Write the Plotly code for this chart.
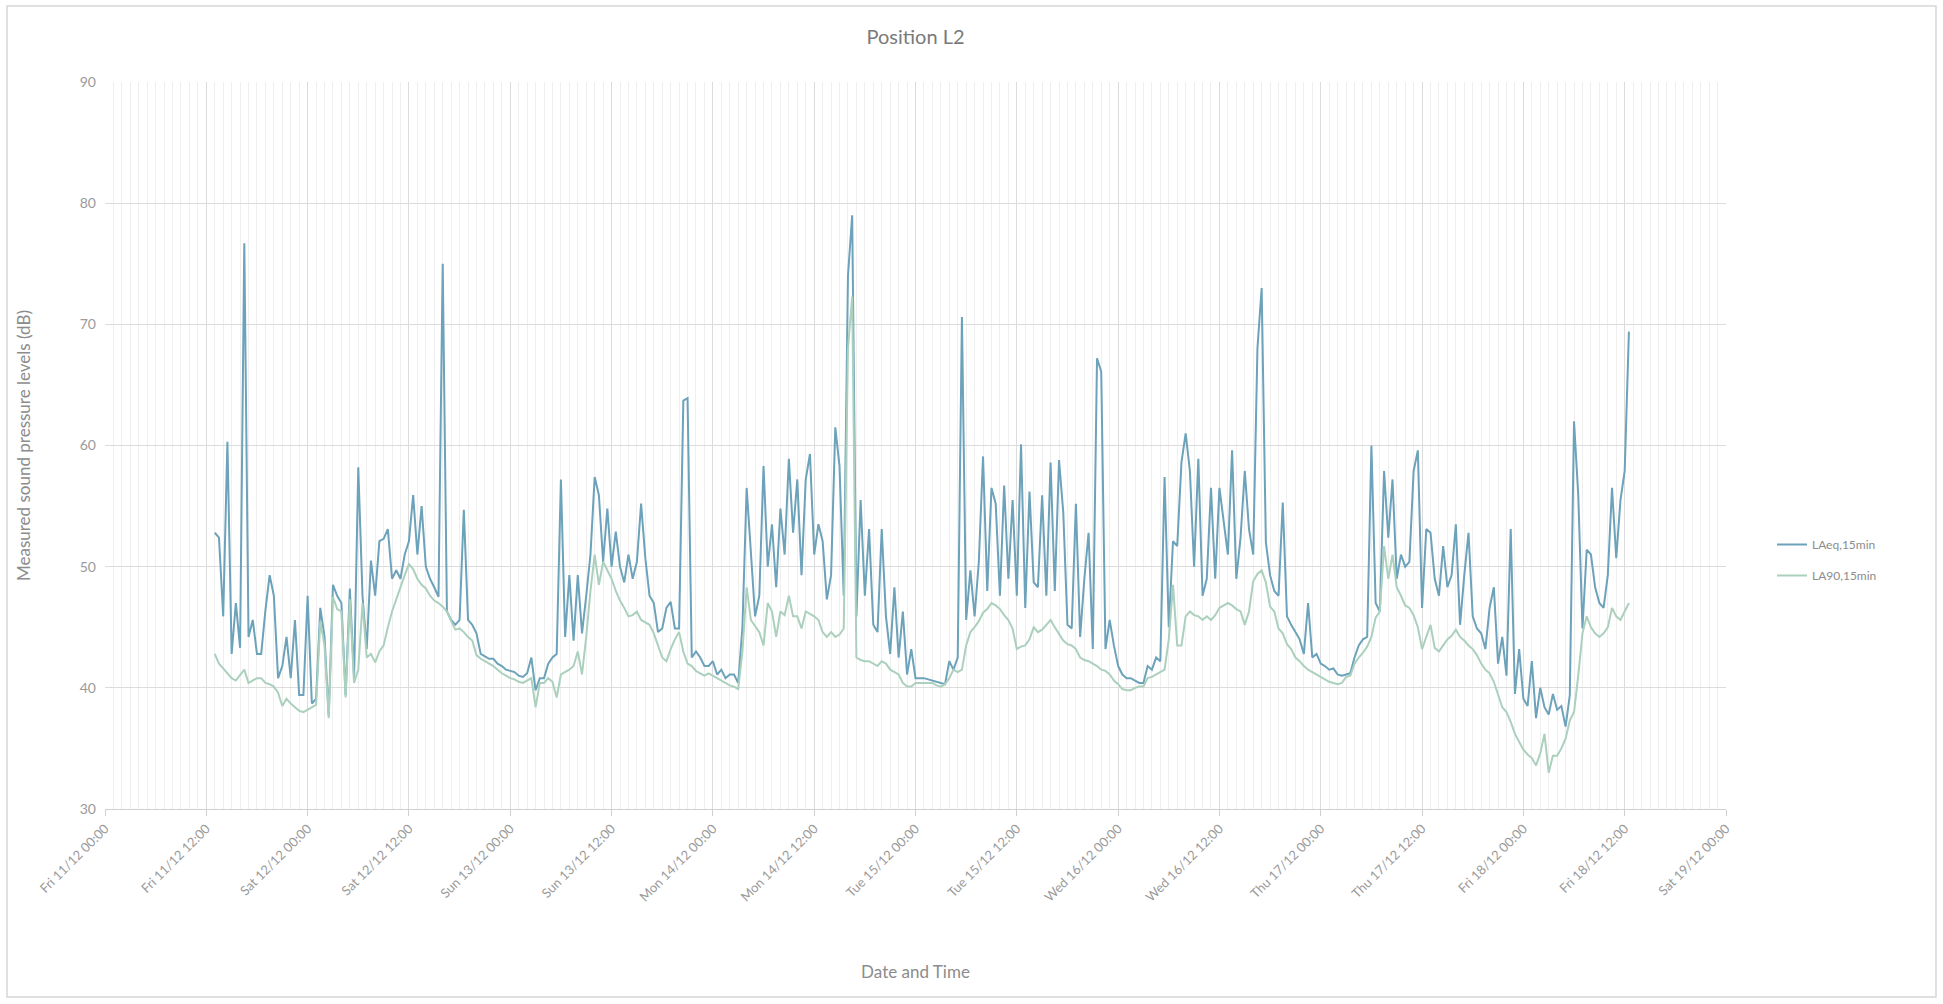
import pandas as pd
import plotly.graph_objects as go

# ---- data: 30-minute samples, starting Fri 11/12/2020 13:00 ----
start_time = "2020-12-11 13:00"
sample_step = "30min"

laeq_part1 = [52.8, 52.4, 45.9, 60.3, 42.8, 47.0, 43.3, 76.7, 44.2, 45.6, 42.8, 42.8, 46.4, 49.3,
              47.6, 40.8, 41.8, 44.2, 40.8, 45.6, 39.4, 39.4, 47.6, 38.7, 39.1, 46.6, 44.2, 37.7,
              48.5, 47.6, 47.0, 39.4, 48.2, 40.8, 58.2, 47.6, 43.2, 50.5, 47.6, 52.1, 52.3, 53.1,
              49.0, 49.7, 49.0, 51.0, 52.1, 55.9, 51.0, 55.0, 50.0, 49.0, 48.3, 47.5, 75.0, 46.3,
              45.6, 45.2]
laeq_part2 = [45.6, 54.7, 45.6, 45.2, 44.5, 42.8, 42.6, 42.4, 42.4, 42.0, 41.8, 41.5, 41.4, 41.3,
              41.0, 40.9, 41.2, 42.5, 39.8, 40.8, 40.8, 42.0, 42.5, 42.8, 57.2, 44.2, 49.3, 43.9,
              49.3, 44.5, 47.6, 51.0, 57.4, 55.9, 50.4, 54.8, 50.0, 52.9, 50.0, 48.7, 51.0, 49.0,
              50.4, 55.2, 50.7, 47.6, 47.0, 44.6, 44.9, 46.6, 47.1, 44.9, 44.9, 63.7, 63.9, 42.5,
              43.0, 42.5, 41.8]
laeq_part3 = [41.8, 42.2, 41.1, 41.5, 40.8, 41.1, 41.1, 40.4, 45.0, 56.5, 51.0, 45.9, 47.6, 58.3,
              50.0, 53.5, 48.3, 54.8, 51.0, 58.9, 52.8, 57.2, 49.3, 57.2, 59.3, 51.0, 53.5, 52.1,
              47.3, 49.3, 61.5, 58.3, 47.6, 74.0, 79.0, 45.9, 55.5, 47.6, 53.1, 45.2, 44.6, 53.1,
              45.9, 42.8, 48.3, 42.5, 46.3, 41.1, 43.2, 40.8, 40.8, 40.8, 40.7, 40.6, 40.5, 40.4,
              40.3, 42.2, 41.5]
laeq_part4 = [42.5, 70.6, 45.6, 49.7, 45.9, 50.4, 59.1, 48.0, 56.5, 55.2, 47.6, 56.7, 49.0, 55.5,
              47.6, 60.1, 46.6, 56.2, 48.7, 48.3, 55.9, 47.6, 58.6, 48.0, 58.8, 54.5, 45.2, 44.9,
              55.2, 44.2, 49.0, 52.8, 43.2, 67.2, 66.1, 43.2, 45.6, 43.5, 41.8, 41.1, 40.8, 40.8,
              40.6, 40.4, 40.4, 41.8, 41.5, 42.5, 42.2, 57.4, 45.0, 52.1, 51.7, 58.6, 61.0, 57.9,
              50.0, 58.9, 47.6, 49.0]
laeq_part5 = [56.5, 49.0, 56.5, 53.8, 51.0, 59.6, 49.0, 52.4, 57.9, 53.1, 51.0, 68.0, 73.0, 52.0,
              49.3, 48.0, 47.6, 55.3, 45.9, 45.2, 44.6, 44.0, 42.8, 47.0, 42.5, 42.8, 42.0, 41.8,
              41.5, 41.6, 41.1, 41.0, 41.1, 41.2, 42.5, 43.5, 44.0, 44.2, 60.0, 47.0, 46.3, 57.9,
              52.4, 57.2, 49.0, 51.0, 50.0, 50.4, 57.9, 59.6, 46.6, 53.1, 52.8, 49.0, 47.6, 51.7,
              48.3, 49.3, 53.5]
laeq_part6 = [45.2, 49.3, 52.8, 45.9, 44.9, 44.5, 43.2, 46.6, 48.3, 42.0, 44.2, 41.0, 53.1, 39.5,
              43.2, 39.1, 38.5, 42.2, 37.5, 40.0, 38.4, 37.8, 39.5, 38.2, 38.5, 36.8, 39.4, 62.0,
              55.9, 44.9, 51.4, 51.0, 48.3, 47.0, 46.6, 49.3, 56.5, 50.7, 55.5, 57.9, 69.4]

la90_part1 = [42.8, 42.0, 41.6, 41.2, 40.8, 40.6, 41.1, 41.5, 40.4, 40.6, 40.8, 40.8, 40.4, 40.3,
              40.1, 39.6, 38.5, 39.1, 38.7, 38.4, 38.1, 38.0, 38.2, 38.4, 38.6, 45.5, 43.5, 37.5,
              47.5, 46.5, 46.3, 39.2, 47.3, 40.4, 41.5, 47.0, 42.5, 42.8, 42.1, 43.0, 43.5, 45.0,
              46.3, 47.3, 48.4, 49.3, 50.2, 49.8, 49.0, 48.5, 48.2, 47.6, 47.2, 47.0, 46.7, 46.3,
              45.5, 44.8]
la90_part2 = [44.9, 44.6, 44.2, 43.9, 42.7, 42.4, 42.2, 42.0, 41.8, 41.5, 41.2, 41.0, 40.8, 40.7,
              40.5, 40.4, 40.6, 40.8, 38.4, 40.4, 40.4, 40.8, 40.5, 39.2, 41.1, 41.3, 41.5, 41.8,
              43.0, 41.1, 44.2, 48.0, 51.0, 48.5, 50.4, 49.7, 49.0, 48.0, 47.2, 46.6, 45.9, 46.0,
              46.3, 45.6, 45.4, 45.2, 44.5, 43.5, 42.5, 42.2, 43.2, 44.0, 44.6, 43.0, 42.0, 41.8,
              41.4, 41.2, 41.0]
la90_part3 = [41.2, 41.0, 40.8, 40.6, 40.4, 40.2, 40.1, 39.9, 43.0, 48.3, 45.6, 45.1, 44.6, 43.5,
              47.0, 46.3, 44.2, 46.3, 46.0, 47.6, 45.9, 45.9, 44.9, 46.3, 46.1, 45.9, 45.6, 44.6,
              44.2, 44.6, 44.2, 44.4, 44.9, 68.0, 72.3, 42.5, 42.3, 42.2, 42.2, 42.0, 41.8, 42.2,
              42.0, 41.5, 41.3, 41.1, 40.4, 40.1, 40.1, 40.4, 40.4, 40.4, 40.4, 40.4, 40.2, 40.1,
              40.3, 40.8, 41.5]
la90_part4 = [41.3, 41.5, 43.5, 44.6, 45.0, 45.5, 46.2, 46.5, 47.0, 46.8, 46.5, 46.0, 45.6, 44.9,
              43.2, 43.4, 43.5, 44.0, 45.0, 44.6, 44.8, 45.2, 45.6, 45.0, 44.5, 43.9, 43.6, 43.5,
              43.2, 42.5, 42.3, 42.2, 42.0, 41.8, 41.5, 41.4, 41.1, 40.6, 40.3, 39.9, 39.8, 39.8,
              40.0, 40.1, 40.1, 40.8, 40.9, 41.1, 41.3, 41.5, 44.0, 48.5, 43.5, 43.5, 45.9, 46.3,
              46.0, 45.9, 45.6, 45.9]
la90_part5 = [45.6, 46.0, 46.6, 46.8, 47.0, 46.8, 46.5, 46.3, 45.2, 46.3, 48.8, 49.4, 49.7, 48.7,
              46.7, 46.3, 44.9, 44.5, 43.6, 43.2, 42.5, 42.2, 41.8, 41.5, 41.3, 41.1, 40.9, 40.7,
              40.5, 40.4, 40.3, 40.4, 40.9, 41.0, 42.0, 42.5, 42.9, 43.4, 44.2, 45.8, 46.3, 51.7,
              49.0, 51.0, 48.3, 47.6, 46.8, 46.6, 46.0, 45.0, 43.2, 44.2, 45.2, 43.3, 43.0, 43.5,
              44.0, 44.3, 44.8]
la90_part6 = [44.2, 43.9, 43.5, 43.2, 42.7, 42.0, 41.5, 41.2, 40.5, 39.4, 38.4, 38.0, 37.2, 36.2,
              35.5, 34.9, 34.5, 34.2, 33.6, 34.6, 36.2, 33.0, 34.4, 34.4, 35.0, 35.8, 37.3, 38.0,
              41.0, 44.5, 45.9, 45.0, 44.5, 44.2, 44.5, 45.0, 46.6, 45.9, 45.6, 46.3, 47.0]

series_names = ["LAeq,15min", "LA90,15min"]
y_ticks = [30, 40, 50, 60, 70, 80, 90]

laeq = laeq_part1 + laeq_part2 + laeq_part3 + laeq_part4 + laeq_part5 + laeq_part6
la90 = la90_part1 + la90_part2 + la90_part3 + la90_part4 + la90_part5 + la90_part6

t_laeq = pd.date_range(start_time, periods=len(laeq), freq=sample_step)
t_la90 = pd.date_range(start_time, periods=len(la90), freq=sample_step)

FONT = "Lato, 'Open Sans', sans-serif"
GREY = "#8c8c8c"

fig = go.Figure()
fig.add_trace(go.Scatter(x=t_laeq, y=laeq, mode="lines", name=series_names[0], legendgroup="a",
                         line=dict(color="#6ca2ba", width=2)))
fig.add_trace(go.Scatter(x=t_la90, y=la90, mode="lines", name=series_names[1], legendgroup="b",
                         line=dict(color="#abd0bd", width=2)))

W, H = 1943, 1004
L, R, T, B = 105, 217, 82, 195
pw, ph = W - L - R, H - T - B

def px_x(p):
    return (p - L) / pw

def px_y(p):
    return (H - B - p) / ph

fig.update_layout(
    width=W, height=H,
    margin=dict(l=L, r=R, t=T, b=B),
    paper_bgcolor="white", plot_bgcolor="white",
    font=dict(family=FONT, color=GREY, size=13),
    title=dict(text="Position L2", x=0.5, xref="paper", y=1 - 37 / H, yanchor="middle",
               font=dict(family=FONT, size=20, color="#7a7a7a")),
    legend=dict(x=px_x(1772), y=px_y(560), xanchor="left", yanchor="middle",
                font=dict(family=FONT, size=12, color=GREY), bgcolor="rgba(0,0,0,0)",
                tracegroupgap=12),
    showlegend=True,
    shapes=[dict(type="rect", xref="paper", yref="paper",
                 x0=px_x(7), x1=px_x(1936), y0=px_y(997), y1=px_y(6),
                 line=dict(color="#d6d6d6", width=1.5), layer="below")],
)

fig.update_xaxes(
    title=dict(text="Date and Time", font=dict(family=FONT, size=17, color=GREY), standoff=62),
    type="date",
    range=["2020-12-11 00:00", "2020-12-19 00:00"],
    tick0="2020-12-11 00:00", dtick=12 * 3600 * 1000,
    tickformat="%a %d/%m %H:%M", tickangle=-45,
    tickfont=dict(family=FONT, size=13, color="#9a9a9a"),
    showgrid=True, gridcolor="#dcdcdc", gridwidth=1,
    minor=dict(dtick=3600 * 1000, showgrid=True, gridcolor="#efefef", gridwidth=1),
    showline=True, linecolor="#d0d0d0", linewidth=1,
    ticks="outside", ticklen=6, tickcolor="#d0d0d0",
    zeroline=False,
)
fig.update_yaxes(
    title=dict(text="Measured sound pressure levels (dB)", font=dict(family=FONT, size=17, color=GREY),
               standoff=44),
    range=[30, 90], tickvals=y_ticks,
    tickfont=dict(family=FONT, size=14, color="#9a9a9a"),
    showgrid=True, gridcolor="#dcdcdc", gridwidth=1,
    showline=False, zeroline=False, ticks="", ticklabelstandoff=8,
)

fig.write_html("out.html", config={"displayModeBar": False},
               post_script="document.body.style.margin='0';document.body.style.overflow='hidden';")
